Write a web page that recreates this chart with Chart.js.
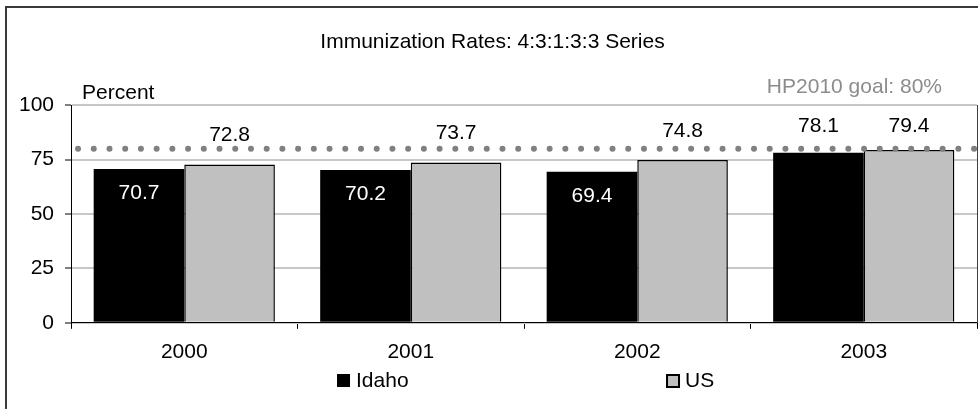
<!DOCTYPE html>
<html>
<head>
<meta charset="utf-8">
<script src="https://cdn.jsdelivr.net/npm/chart.js@4"></script>
<style>
  html, body { margin: 0; padding: 0; background: #fff; }
  #wrap { position: relative; width: 978px; height: 409px; }
</style>
</head>
<body>
<div id="wrap"><canvas id="chart" width="978" height="409"></canvas></div>
<script>
// chart data
const years = ["2000", "2001", "2002", "2003"];
const idahoRates = [70.7, 70.2, 69.4, 78.1];
const usRates = [72.8, 73.7, 74.8, 79.4];
const goalRate = 80;
const yTickValues = [0, 25, 50, 75, 100];

const FONT = "'Liberation Sans', Arial, sans-serif";
const FONT_SIZE = 21;
Chart.defaults.font.family = FONT;
Chart.defaults.font.size = FONT_SIZE;
Chart.defaults.color = "#000";

// outer frame (only left and top edges show in the picture)
const framePlugin = {
    id: "frame",
    beforeDraw(chart) {
        const ctx = chart.ctx;
        ctx.save();
        ctx.fillStyle = "#fff";
        ctx.fillRect(0, 0, chart.width, chart.height);
        ctx.fillStyle = "#3a3a3a";
        ctx.fillRect(5, 6, 2, chart.height);
        ctx.fillRect(5, 6, chart.width, 2);
        ctx.restore();
    }
};

// dotted goal line, value labels, captions and legend
const extrasPlugin = {
    id: "extras",
    afterDatasetsDraw(chart) {
        const ctx = chart.ctx;
        const area = chart.chartArea;
        const y = chart.scales.y.getPixelForValue(goalRate);

        ctx.save();
        ctx.strokeStyle = "#808080";
        ctx.lineWidth = 6;
        ctx.lineCap = "round";
        ctx.setLineDash([0, 15.72]);
        ctx.beginPath();
        ctx.moveTo(area.left + 7, y);
        ctx.lineTo(area.right, y);
        ctx.stroke();
        ctx.restore();

        ctx.save();
        ctx.font = FONT_SIZE + "px " + FONT;
        ctx.textAlign = "center";
        ctx.textBaseline = "middle";
        chart.data.datasets.forEach((ds, di) => {
            const meta = chart.getDatasetMeta(di);
            meta.data.forEach((bar, i) => {
                const v = ds.data[i];
                const inside = di === 0 && v < goalRate - 5;
                let ly;
                if (inside) {
                    ctx.fillStyle = "#fff";
                    ly = bar.y + 24;
                } else {
                    ctx.fillStyle = "#000";
                    ly = Math.max(bar.y - 29, area.top + 21);
                }
                ctx.fillText(v.toFixed(1), bar.x, ly);
            });
        });
        ctx.restore();
    },
    afterDraw(chart) {
        const ctx = chart.ctx;
        const area = chart.chartArea;
        ctx.save();
        ctx.font = FONT_SIZE + "px " + FONT;
        ctx.textBaseline = "middle";

        ctx.fillStyle = "#000";
        ctx.textAlign = "left";
        ctx.fillText("Percent", area.left + 11, area.top - 12);

        ctx.fillStyle = "#8c8c8c";
        ctx.textAlign = "right";
        ctx.fillText("HP2010 goal: " + goalRate + "%", area.right - 35, area.top - 18);

        // legend
        const legendY = chart.height - 28;
        const legendX = [chart.width * 0.3446, chart.width * 0.681];
        ctx.textAlign = "left";
        chart.data.datasets.forEach((ds, di) => {
            const x = legendX[di];
            ctx.fillStyle = ds.backgroundColor;
            ctx.fillRect(x, legendY - 7, 13, 13);
            if (ds.borderWidth) {
                ctx.strokeStyle = ds.borderColor;
                ctx.lineWidth = 2;
                ctx.strokeRect(x + 1, legendY - 6, 12, 12);
            }
            ctx.fillStyle = "#000";
            ctx.fillText(ds.label, x + 19, legendY);
        });
        ctx.restore();
    }
};

new Chart(document.getElementById("chart"), {
    type: "bar",
    data: {
        labels: years,
        datasets: [
            {
                label: "Idaho",
                data: idahoRates,
                backgroundColor: "#000",
                borderWidth: 0,
                categoryPercentage: 0.8,
                barPercentage: 1
            },
            {
                label: "US",
                data: usRates,
                backgroundColor: "#c0c0c0",
                borderColor: "#000",
                borderWidth: 1.5,
                categoryPercentage: 0.8,
                barPercentage: 1
            }
        ]
    },
    options: {
        responsive: false,
        animation: false,
        devicePixelRatio: 1,
        layout: { padding: { left: 8, right: 1, top: 0, bottom: 33 } },
        plugins: {
            legend: { display: false },
            tooltip: { enabled: false },
            title: {
                display: true,
                text: "Immunization Rates: 4:3:1:3:3 Series",
                color: "#000",
                font: { size: FONT_SIZE, weight: "normal" },
                padding: { top: 30, bottom: 50 }
            }
        },
        scales: {
            x: {
                grid: {
                    offset: true,
                    drawOnChartArea: false,
                    tickLength: 6,
                    tickColor: "#000",
                    tickWidth: 1
                },
                border: { color: "#000", width: 1 },
                ticks: { color: "#000", padding: 11 }
            },
            y: {
                min: 0,
                max: 100,
                afterBuildTicks: scale => {
                    scale.ticks = yTickValues.map(v => ({ value: v }));
                },
                grid: {
                    color: "#c8c8c8",
                    lineWidth: 2,
                    tickLength: 6,
                    tickColor: "#000",
                    tickWidth: 1
                },
                border: { color: "#000", width: 1 },
                ticks: { color: "#000", padding: 11 }
            },
            y2: {
                position: "right",
                min: 0,
                max: 100,
                grid: { display: false, drawTicks: false },
                ticks: { display: false },
                border: { display: true, color: "#404040", width: 1 }
            }
        }
    },
    plugins: [framePlugin, extrasPlugin]
});
</script>
</body>
</html>
